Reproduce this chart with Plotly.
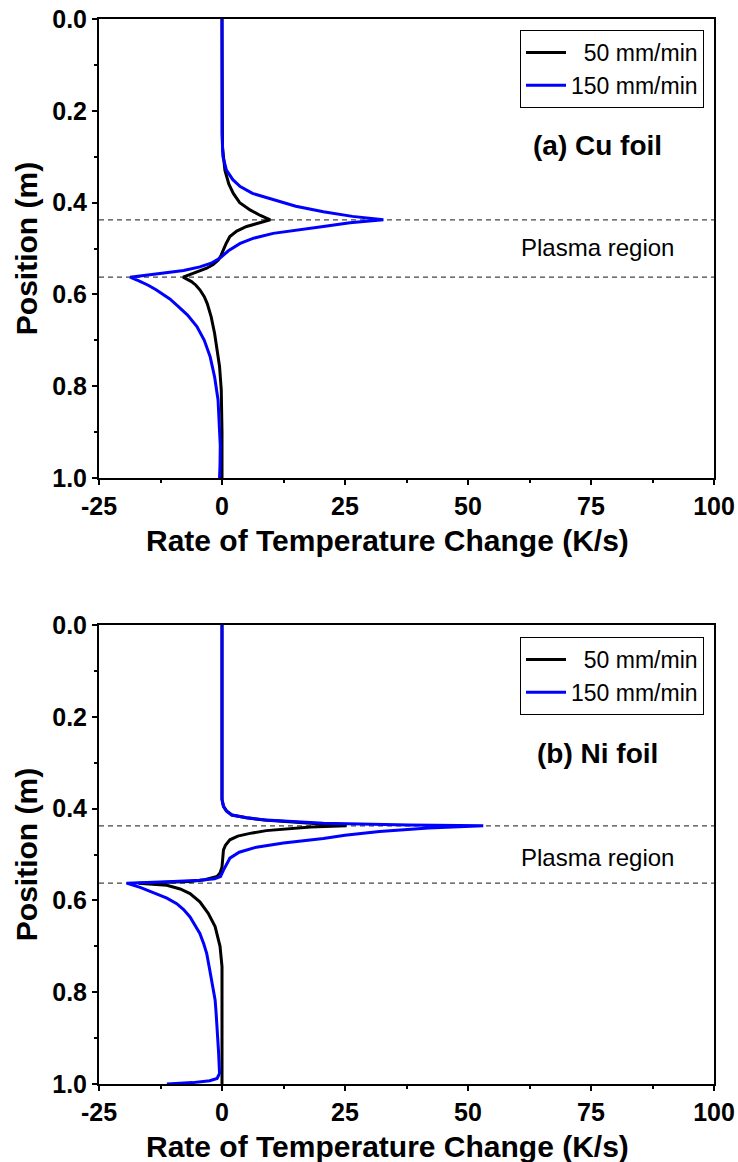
import plotly.graph_objects as go

# ---------------- data ----------------
series_names = ["\u200750 mm/min", "150 mm/min"]
plasma_bounds = [0.4375, 0.5625]
x_tick_vals = [-25, 0, 25, 50, 75, 100]
x_tick_text = ["-25", "0", "25", "50", "75", "100"]
y_tick_vals = [0.0, 0.2, 0.4, 0.6, 0.8, 1.0]
y_tick_text = ["0.0", "0.2", "0.4", "0.6", "0.8", "1.0"]

# (a) Cu foil
cu_50_pos = [0.0, 0.20, 0.28, 0.33, 0.36, 0.38, 0.40, 0.416, 0.428, 0.4375, 0.445, 0.452, 0.462, 0.474,
             0.49, 0.503, 0.515, 0.525, 0.535, 0.543, 0.552, 0.5625, 0.572, 0.58, 0.590, 0.605, 0.62,
             0.649, 0.685, 0.721, 0.757, 0.808, 0.9, 1.0]
cu_50_rate = [0.0, 0.0, 0.1, 0.6, 1.4, 2.3, 3.6, 5.7, 7.8, 9.8, 7.0, 5.0, 3.0, 1.6,
              0.8, 0.3, -0.2, -0.75, -1.8, -3.1, -5.2, -7.9, -6.2, -5.3, -4.5, -3.6, -3.0,
              -2.2, -1.5, -1.0, -0.5, -0.15, 0.0, 0.0]
cu_150_pos = [0.0, 0.25, 0.30, 0.329, 0.35, 0.365, 0.38, 0.394, 0.408, 0.42, 0.43, 0.4375, 0.444, 0.452,
              0.46, 0.467, 0.478, 0.489, 0.505, 0.521, 0.532, 0.540, 0.548, 0.556, 0.5625, 0.57, 0.58,
              0.59, 0.60, 0.61, 0.627, 0.645, 0.670, 0.70, 0.736, 0.78, 0.830, 0.88, 0.93, 0.97, 1.0]
cu_150_rate = [0.0, 0.0, 0.2, 0.9, 2.2, 3.7, 6.2, 10.4, 15.0, 20.6, 26.5, 32.8, 26.0, 20.6,
               14.5, 10.4, 6.3, 3.7, 1.3, -0.4, -2.2, -4.5, -7.8, -13.3, -18.7, -17.0, -15.0,
               -13.4, -11.9, -10.6, -8.8, -7.0, -5.1, -3.6, -2.4, -1.5, -0.8, -0.5, -0.35, -0.4, -0.5]

# (b) Ni foil
ni_50_pos = [0.0, 0.38, 0.395, 0.405, 0.414, 0.42, 0.425, 0.432, 0.4375, 0.440, 0.443, 0.448, 0.454, 0.46,
             0.468, 0.48, 0.49, 0.527, 0.540, 0.548, 0.555, 0.559, 0.5625, 0.567, 0.575, 0.585, 0.603,
             0.628, 0.657, 0.70, 0.744, 0.8, 1.0]
ni_50_rate = [0.0, 0.0, 0.3, 0.9, 2.0, 5.0, 8.5, 17.0, 25.3, 18.0, 13.8, 9.0, 5.7, 3.2,
              1.6, 0.7, 0.3, 0.0, -0.4, -1.0, -3.5, -6.5, -17.0, -11.2, -8.5, -6.5, -4.5,
              -2.8, -1.4, -0.4, 0.0, 0.0, 0.0]
ni_150_pos = [0.0, 0.38, 0.395, 0.405, 0.414, 0.42, 0.425, 0.432, 0.436, 0.4375, 0.442, 0.450, 0.458,
              0.465, 0.475, 0.484, 0.495, 0.508, 0.534, 0.548, 0.553, 0.556, 0.559, 0.5625, 0.572, 0.585,
              0.595, 0.607, 0.62, 0.636, 0.655, 0.672, 0.695, 0.716, 0.745, 0.773, 0.817, 0.845, 0.882,
              0.93, 0.977, 0.988, 0.993, 0.997, 1.0]
ni_150_rate = [0.0, 0.0, 0.3, 0.9, 2.0, 5.0, 9.0, 20.6, 38.0, 53.1, 42.0, 32.0, 25.0,
               20.6, 12.5, 7.0, 3.5, 1.6, 0.3, -0.3, -1.5, -4.5, -9.9, -19.4, -16.5, -13.3,
               -11.2, -9.2, -7.8, -6.5, -5.4, -4.5, -3.7, -3.1, -2.6, -2.1, -1.4, -1.2, -0.95,
               -0.7, -0.5, -1.0, -2.5, -6.0, -11.2]

panel_labels = ["(a) Cu foil", "(b) Ni foil"]
plasma_label = "Plasma region"
x_title = "Rate of Temperature Change (K/s)"
y_title = "Position (m)"

# ---------------- figure ----------------
FONT = "Liberation Sans, Arial, sans-serif"
fig = go.Figure()

panels = [
    (cu_50_pos, cu_50_rate, cu_150_pos, cu_150_rate, "x", "y", "legend"),
    (ni_50_pos, ni_50_rate, ni_150_pos, ni_150_rate, "x2", "y2", "legend2"),
]
for p50, r50, p150, r150, xa, ya, lg in panels:
    fig.add_trace(go.Scatter(x=r50, y=p50, mode="lines", name=series_names[0],
                             line=dict(color="black", width=3), xaxis=xa, yaxis=ya, legend=lg))
    fig.add_trace(go.Scatter(x=r150, y=p150, mode="lines", name=series_names[1],
                             line=dict(color="#0000ff", width=3), xaxis=xa, yaxis=ya, legend=lg))
    for b in plasma_bounds:
        fig.add_shape(type="line", xref=f"{xa} domain", yref=ya, x0=0, x1=1, y0=b, y1=b,
                      line=dict(color="#444444", width=1.3, dash="5px,4px"), layer="below")

W, H = 738, 1162
xd = [99 / W, 714 / W]
yd_top = [1 - 478 / H, 1 - 19 / H]
yd_bot = [1 - 1084 / H, 1 - 625 / H]

def xaxis_cfg(anchor):
    return dict(domain=xd, anchor=anchor, range=[-25, 100], automargin=False,
                tickmode="array", tickvals=x_tick_vals, ticktext=x_tick_text,
                ticks="outside", ticklen=5, tickwidth=2, tickcolor="black",
                minor=dict(dtick=12.5, tick0=-25, ticks="outside", ticklen=3, tickwidth=1.5, tickcolor="black"),
                showline=True, linewidth=2, linecolor="black", mirror=True,
                showgrid=False, zeroline=False,
                tickfont=dict(family=FONT, size=25, color="black", weight="bold"))

def yaxis_cfg(anchor, dom):
    return dict(domain=dom, anchor=anchor, range=[1, 0], automargin=False,
                tickmode="array", tickvals=y_tick_vals, ticktext=y_tick_text,
                ticks="outside", ticklen=5, tickwidth=2, tickcolor="black",
                minor=dict(dtick=0.1, tick0=0, ticks="outside", ticklen=3, tickwidth=1.5, tickcolor="black"),
                showline=True, linewidth=2, linecolor="black", mirror=True,
                showgrid=False, zeroline=False,
                tickfont=dict(family=FONT, size=25, color="black", weight="bold"),
                title=dict(text=y_title, font=dict(family=FONT, size=30, color="black", weight="bold"),
                           standoff=6))

legend_cfg = dict(xanchor="right", yanchor="top", bgcolor="white", bordercolor="black", borderwidth=1,
                  font=dict(family=FONT, size=23, color="black"), tracegroupgap=0,
                  itemwidth=40)

fig.update_layout(
    width=W, height=H, margin=dict(l=0, r=0, t=0, b=0),
    paper_bgcolor="white", plot_bgcolor="white",
    showlegend=True,
    xaxis=xaxis_cfg("y"), yaxis=yaxis_cfg("x", yd_top),
    xaxis2=xaxis_cfg("y2"), yaxis2=yaxis_cfg("x2", yd_bot),
    legend=dict(x=704 / W, y=1 - 30 / H, **legend_cfg),
    legend2=dict(x=704 / W, y=1 - 637 / H, **legend_cfg),
)

def note(x, y, text, size, bold):
    fig.add_annotation(x=x / W, y=1 - y / H, xref="paper", yref="paper", text=text, showarrow=False,
                       xanchor="center", yanchor="middle",
                       font=dict(family=FONT, size=size, color="black", weight="bold" if bold else "normal"))

note(597, 145, panel_labels[0], 28, True)
note(597, 753, panel_labels[1], 28, True)
note(597, 248, plasma_label, 24, False)
note(597, 857, plasma_label, 24, False)
note(387, 540, x_title, 30, True)
note(387, 1146, x_title, 30, True)

fig.write_html("out.html")
